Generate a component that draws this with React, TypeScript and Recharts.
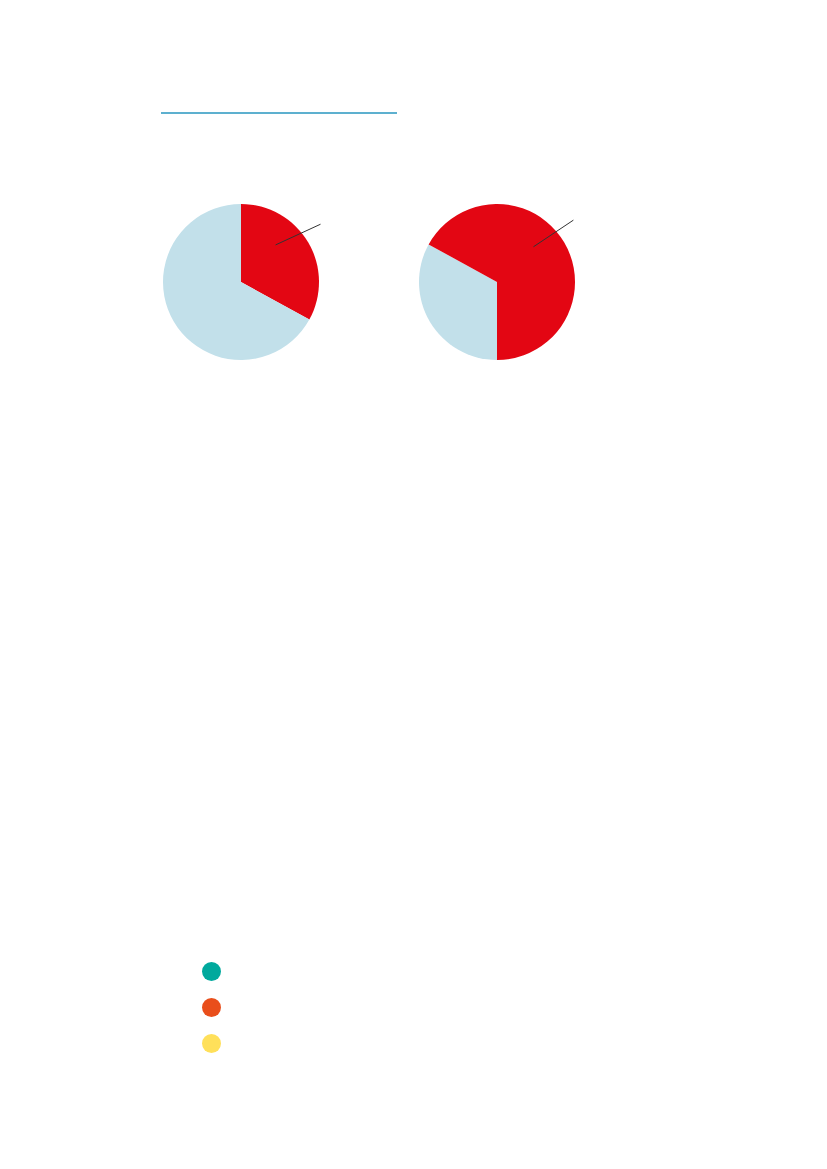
import { PieChart, Pie, Cell, Legend } from 'recharts'

const sliceNames = ['Share A', 'Share B']
const leftShares = [33, 67]
const rightShares = [33, 67]
const legendColors = ['#00a99d', '#e94e1b', '#ffe05a']

const RED = '#e30613'
const BLUE = '#c2e0ea'
const RADIAN = Math.PI / 180

function leader(startDeg: number, endDeg: number, highlight: number) {
  return (p: any) => {
    if (p.index !== highlight) return null
    const r1 = p.outerRadius * 0.65
    const r2 = p.outerRadius * 1.26
    const x1 = p.cx + r1 * Math.cos(startDeg * RADIAN)
    const y1 = p.cy - r1 * Math.sin(startDeg * RADIAN)
    const x2 = p.cx + r2 * Math.cos(endDeg * RADIAN)
    const y2 = p.cy - r2 * Math.sin(endDeg * RADIAN)
    return <path d={`M${x1},${y1}L${x2},${y2}`} stroke="#333" strokeWidth={1} fill="none" />
  }
}

function Dots() {
  return (
    <div>
      {legendColors.map(c => (
        <div key={c} style={{ width: 19, height: 19, borderRadius: '50%', background: c, marginBottom: 17 }} />
      ))}
    </div>
  )
}

export default function App() {
  const left = sliceNames.map((name, i) => ({ name, value: leftShares[i] }))
  const right = sliceNames.map((name, i) => ({ name, value: rightShares[i] }))
  return (
    <div style={{ position: 'absolute', left: 0, top: 0, width: 827, height: 1169, background: '#fff' }}>
      <div style={{ position: 'absolute', left: 161, top: 112, width: 236, height: 2, background: '#5db0cf' }} />
      <PieChart width={827} height={1169} margin={{ top: 0, right: 0, bottom: 0, left: 0 }}>
        <Pie
          data={left}
          dataKey="value"
          cx={241}
          cy={282}
          outerRadius={78}
          startAngle={90}
          endAngle={-270}
          stroke="none"
          label={leader(47, 36, 0)}
          labelLine={false}
          isAnimationActive={false}
        >
          <Cell fill={RED} />
          <Cell fill={BLUE} />
        </Pie>
        <Pie
          data={right}
          dataKey="value"
          cx={497}
          cy={282}
          outerRadius={78}
          startAngle={270}
          endAngle={-90}
          stroke="none"
          label={leader(44, 39, 1)}
          labelLine={false}
          isAnimationActive={false}
        >
          <Cell fill={BLUE} />
          <Cell fill={RED} />
        </Pie>
        <Legend content={<Dots />} wrapperStyle={{ position: 'absolute', left: 202, top: 962, width: 20 }} />
      </PieChart>
    </div>
  )
}
